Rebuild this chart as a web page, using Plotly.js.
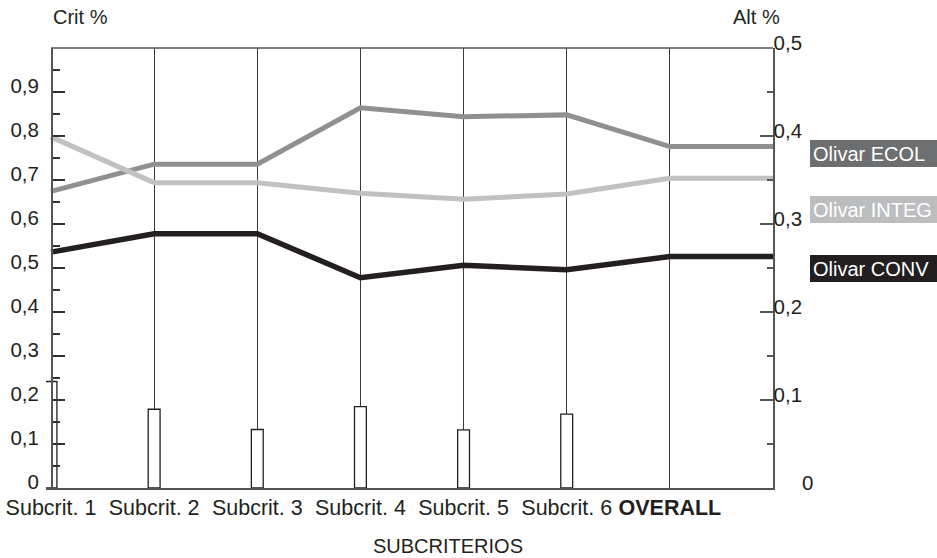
<!DOCTYPE html>
<html>
<head>
<meta charset="utf-8">
<script src="https://cdn.plot.ly/plotly-3.0.1.min.js"></script>
<style>html,body{margin:0;padding:0;background:#fff;}#chart{width:937px;height:558px;}</style>
</head>
<body>
<div id="chart"></div>
<script>
// ---- data ----
var categories = ["Subcrit. 1", "Subcrit. 2", "Subcrit. 3", "Subcrit. 4", "Subcrit. 5", "Subcrit. 6", "<b>OVERALL</b>"];
// criteria weights (left axis, Crit %), one per subcriterion (none for OVERALL)
var critWeights = [0.242, 0.179, 0.133, 0.185, 0.132, 0.168];
// alternative scores (right axis, Alt %)
var olivarEcol  = [0.337, 0.368, 0.368, 0.432, 0.422, 0.424, 0.388];
var olivarInteg = [0.399, 0.347, 0.347, 0.335, 0.328, 0.334, 0.352];
var olivarConv  = [0.268, 0.289, 0.289, 0.239, 0.253, 0.248, 0.263];
var seriesNames = ["Olivar ECOL", "Olivar INTEG", "Olivar CONV"];
var leftTickVals  = [0, 0.1, 0.2, 0.3, 0.4, 0.5, 0.6, 0.7, 0.8, 0.9];
var leftTickText  = ["0", "0,1", "0,2", "0,3", "0,4", "0,5", "0,6", "0,7", "0,8", "0,9"];
var rightTickVals = [0, 0.1, 0.2, 0.3, 0.4, 0.5];
var rightTickText = ["\u00a0\u00a0\u00a0\u00a0\u00a00", "0,1", "0,2", "0,3", "0,4", "0,5"];

// ---- build ----
var xIdx = categories.map(function (c, i) { return i; });
var xEnd = categories.length; // right frame edge
function withEdge(arr) { return arr.concat([arr[arr.length - 1]]); }
var xLine = xIdx.concat([xEnd]);

var FONT = "Liberation Sans, Arial, Helvetica, sans-serif";
var INK = "#231f20";
var lineColors = ["#909092", "#c0c1c3", "#231f20"];
var boxColors  = ["#6d6e70", "#bcbdbf", "#231f20"];

var traces = [
  {
    type: "bar", x: xIdx.slice(0, critWeights.length), y: critWeights,
    xaxis: "x", yaxis: "y", width: 0.115,
    marker: { color: "#ffffff", line: { color: INK, width: 1.3 } },
    hoverinfo: "skip", showlegend: false
  }
];
[olivarEcol, olivarInteg, olivarConv].forEach(function (s, k) {
  traces.push({
    type: "scatter", mode: "lines", x: xLine, y: withEdge(s),
    xaxis: "x", yaxis: "y2", name: seriesNames[k],
    line: { color: lineColors[k], width: k === 2 ? 5.5 : 5 },
    hoverinfo: "skip", showlegend: false
  });
});

var mL = 46, mR = 164, plotW = 937 - mL - mR; // 727
var r0 = -35 / 722;
var yPos = 5 / plotW;
function px(xPix) { return (xPix - mL) / plotW; }
function py(yPix) { return (488 - yPix) / 440; }

var annotations = [
  { text: "Crit %", xref: "paper", yref: "paper", x: px(51), y: py(17), xanchor: "left", yanchor: "middle", showarrow: false, font: { family: FONT, size: 20, color: INK } },
  { text: "Alt %", xref: "paper", yref: "paper", x: px(782), y: py(17), xanchor: "right", yanchor: "middle", showarrow: false, font: { family: FONT, size: 20, color: INK } },
  { text: "SUBCRITERIOS", xref: "paper", yref: "paper", x: px(448), y: py(546), xanchor: "center", yanchor: "middle", showarrow: false, font: { family: FONT, size: 20, color: INK } }
];
var boxCenters = [153, 209.5, 268];
seriesNames.forEach(function (n, k) {
  annotations.push({
    text: n, xref: "paper", yref: "paper", x: px(810), y: py(boxCenters[k]),
    xanchor: "left", yanchor: "middle", align: "left", valign: "middle",
    width: 121, height: 21, borderpad: 2, borderwidth: 1, bordercolor: boxColors[k],
    bgcolor: boxColors[k], showarrow: false,
    font: { family: FONT, size: 20, color: "#ffffff" }
  });
});

var layout = {
  width: 937, height: 558,
  margin: { l: mL, r: mR, t: 48, b: 70, pad: 0 },
  paper_bgcolor: "#ffffff", plot_bgcolor: "#ffffff",
  font: { family: FONT, size: 20, color: INK },
  showlegend: false,
  bargap: 0,
  xaxis: {
    range: [r0, xEnd], tickmode: "array", tickvals: xIdx, ticktext: categories,
    showgrid: true, gridcolor: "#3a3a3a", gridwidth: 1,
    showline: true, linecolor: "#555555", linewidth: 1.5,
    ticks: "", zeroline: false, fixedrange: true,
    tickfont: { family: FONT, size: 21.5, color: INK }
  },
  yaxis: {
    range: [0, 1], anchor: "free", position: yPos,
    tickmode: "array", tickvals: leftTickVals, ticktext: leftTickText,
    ticks: "inside", ticklen: 12, tickwidth: 1.2, tickcolor: "#333333",
    minor: { ticks: "inside", ticklen: 7, dtick: 0.05, tick0: 0, tickwidth: 1.2, tickcolor: "#333333", showgrid: false },
    showline: true, linecolor: "#555555", linewidth: 1.5,
    showgrid: false, zeroline: false, fixedrange: true,
    ticklabelshift: -6, ticklabelstandoff: 8,
    tickfont: { family: FONT, size: 20.5, color: INK }
  },
  yaxis2: {
    range: [0, 0.5], overlaying: "y", side: "right", anchor: "x",
    tickmode: "array", tickvals: rightTickVals, ticktext: rightTickText,
    ticks: "inside", ticklen: 13, tickwidth: 1.2, tickcolor: "#555555",
    minor: { ticks: "inside", ticklen: 6, dtick: 0.05, tick0: 0, tickwidth: 1.2, tickcolor: "#555555", showgrid: false },
    showline: true, linecolor: "#555555", linewidth: 1.5,
    showgrid: false, zeroline: false, fixedrange: true,
    ticklabelshift: -5, ticklabelstandoff: -5,
    tickfont: { family: FONT, size: 20.5, color: INK }
  },
  shapes: [
    { type: "line", xref: "x", yref: "paper", x0: 0, x1: xEnd, y0: 1, y1: 1, line: { color: "#555555", width: 1.5 } }
  ],
  annotations: annotations
};

Plotly.newPlot("chart", traces, layout, { displayModeBar: false, staticPlot: true });
</script>
</body>
</html>
